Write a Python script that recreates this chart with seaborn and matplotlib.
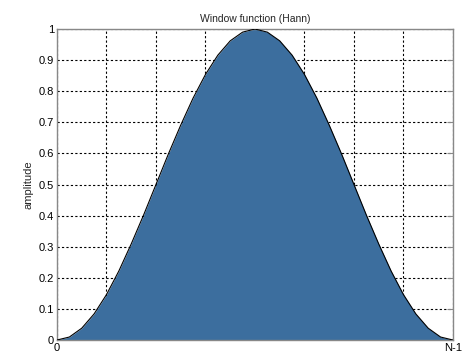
import matplotlib
matplotlib.use("Agg")
import matplotlib.pyplot as plt
import seaborn as sns
import pandas as pd

# values (sample index as fraction of N-1)
sample_pos = [i / 32 for i in range(33)]
amplitude = [0.0, 0.0096, 0.038, 0.084, 0.146, 0.222, 0.309, 0.402, 0.5,
             0.598, 0.691, 0.778, 0.854, 0.916, 0.962, 0.990, 1.0,
             0.990, 0.962, 0.916, 0.854, 0.778, 0.691, 0.598, 0.5,
             0.402, 0.309, 0.222, 0.146, 0.084, 0.038, 0.0096, 0.0]
x_ticks = [i / 8 for i in range(9)]
x_tick_labels = ["0", "", "", "", "", "", "", "", "N-1"]
y_ticks = [i / 10 for i in range(11)]
y_tick_labels = ["0", "0.1", "0.2", "0.3", "0.4", "0.5", "0.6", "0.7", "0.8", "0.9", "1"]

sns.set_style("white")
plt.rcParams["font.family"] = ["Liberation Sans", "DejaVu Sans"]

df = pd.DataFrame({"x": sample_pos, "y": amplitude})

fig = plt.figure(figsize=(4.66, 3.54), dpi=100)
ax = fig.add_axes([0.1223, 0.0395, 0.972 - 0.1223, 0.918 - 0.0395])
ax.fill_between(df["x"], df["y"], 0, color="#3c6e9e", zorder=2, linewidth=0)
sns.lineplot(data=df, x="x", y="y", ax=ax, color="black", linewidth=0.8, zorder=3)

ax.set_xlim(0, 1)
ax.set_ylim(0, 1)
ax.set_xticks(x_ticks)
ax.set_xticklabels(x_tick_labels)
ax.set_yticks(y_ticks)
ax.set_yticklabels(y_tick_labels)
ax.grid(True, color="black", linestyle=(0, (2, 2)), linewidth=0.8, zorder=1)
ax.set_axisbelow(True)
ax.tick_params(direction="in", length=4, width=0.8, colors="#888888",
               labelcolor="black", labelsize=8, pad=2, right=True, top=False)
for s in ax.spines.values():
    s.set_color("#888888")
    s.set_linewidth(1.0)
ax.set_xlabel("")
ax.set_ylabel("amplitude", fontsize=8, labelpad=4)
ax.set_title("Window function (Hann)", fontsize=7.5, pad=5)
fig.savefig("out.png", dpi=100)
